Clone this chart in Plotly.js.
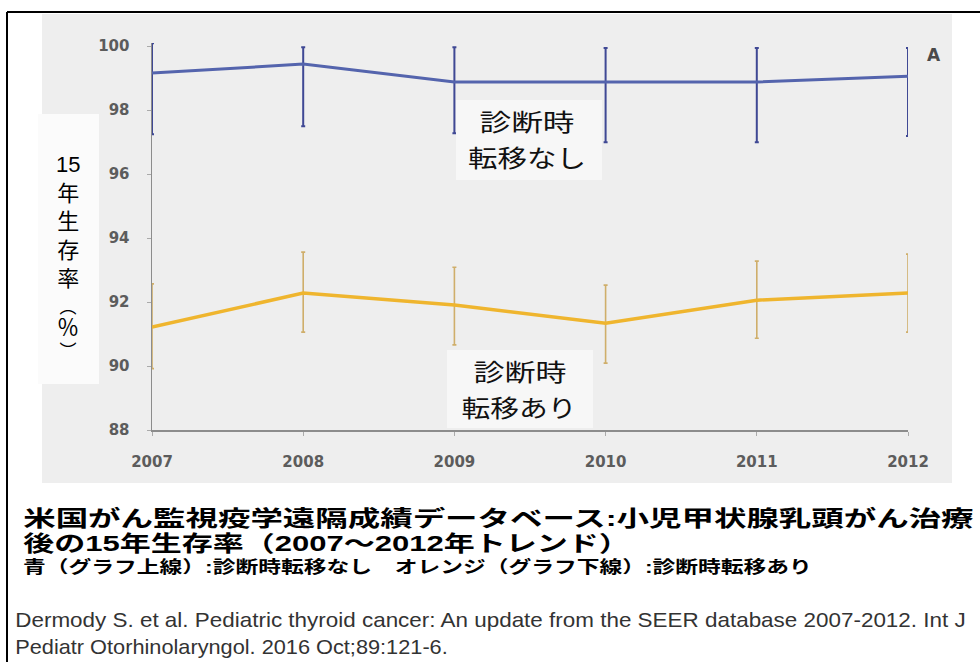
<!DOCTYPE html>
<html>
<head>
<meta charset="utf-8">
<script src="https://cdn.plot.ly/plotly-3.0.1.min.js"></script>
<style>
  html, body { margin: 0; padding: 0; background: #ffffff; }
  #chart { width: 980px; height: 662px; }
</style>
</head>
<body>
<div id="chart"></div>
<script>
// ---- data ----
const years = [2007, 2008, 2009, 2010, 2011, 2012];
const yearLabels = ['2007', '2008', '2009', '2010', '2011', '2012'];
const yTicks = [88, 90, 92, 94, 96, 98, 100];
const yTickLabels = ['88', '90', '92', '94', '96', '98', '100'];

// 診断時転移なし (blue, upper line)
const noMetValues = [99.16, 99.44, 98.88, 98.88, 98.88, 99.06];
const noMetErrPlus = [0.93, 0.53, 1.09, 1.06, 1.06, 0.88];
const noMetErrMinus = [1.91, 1.94, 1.60, 1.88, 1.88, 1.87];

// 診断時転移あり (orange, lower line)
const metValues = [91.22, 92.28, 91.91, 91.34, 92.06, 92.28];
const metErrPlus = [1.35, 1.28, 1.18, 1.19, 1.22, 1.22];
const metErrMinus = [1.30, 1.22, 1.25, 1.25, 1.19, 1.22];

// texts
const yLabelMain = ['15', '年', '生', '存', '率'];
const yLabelUnit = ['︵', '％', '︶'];
const noMetLabel = ['診断時', '転移なし'];
const metLabel = ['診断時', '転移あり'];
const titleLines = [
  '米国がん監視疫学遠隔成績データベース:小児甲状腺乳頭がん治療',
  '後の15年生存率（2007〜2012年トレンド）',
  '青（グラフ上線）:診断時転移なし　オレンジ（グラフ下線）:診断時転移あり'
];
const citeLines = [
  'Dermody S. et al. Pediatric thyroid cancer: An update from the SEER database 2007-2012. Int J',
  'Pediatr Otorhinolaryngol. 2016 Oct;89:121-6.'
];
const panelLetter = 'A';

// ---- layout helpers (pixel -> paper) ----
const L = 152, R = 908, T = 43, B = 430;
function px(x) { return (x - L) / (R - L); }
function py(y) { return (B - y) / (B - T); }

const JP = '"Liberation Sans", "Noto Sans CJK JP", sans-serif';
const CITE = '"Liberation Sans Narrow", "Liberation Sans", sans-serif';

const traces = [
  {
    x: years, y: noMetValues, type: 'scatter', mode: 'lines',
    line: { color: '#5464ad', width: 3 },
    error_y: { type: 'data', symmetric: false, array: noMetErrPlus, arrayminus: noMetErrMinus,
               color: '#3f4894', thickness: 2, width: 2 },
    cliponaxis: false, hoverinfo: 'none'
  },
  {
    x: years, y: metValues, type: 'scatter', mode: 'lines',
    line: { color: '#efb52e', width: 3.5 },
    error_y: { type: 'data', symmetric: false, array: metErrPlus, arrayminus: metErrMinus,
               color: '#cfae6a', thickness: 1.6, width: 2 },
    cliponaxis: false, hoverinfo: 'none'
  }
];

const annotations = [];
function addText(name, text, x, y, opts) {
  annotations.push(Object.assign({
    name: name, text: text, xref: 'paper', yref: 'paper', x: px(x), y: py(y),
    showarrow: false, xanchor: 'center', yanchor: 'middle', borderpad: 0
  }, opts));
}

// y label (vertical writing)
addText('ylabMain', yLabelMain.join('<br>'), 68, 221, { font: { family: JP, size: 22, color: '#000' } });
addText('ylabUnit', yLabelUnit.map((c, i) => i === 1 ? '<span style="font-size:22px">' + c + '</span>' : c).join('<br>'),
        68, 329, { font: { family: JP, size: 17, color: '#000' } });

// series labels
addText('box1a', noMetLabel[0], 527, 122, { font: { family: JP, size: 24, color: '#111' } });
addText('box1b', noMetLabel[1], 527, 158, { font: { family: JP, size: 24, color: '#111' } });
addText('box2a', metLabel[0], 520, 372, { font: { family: JP, size: 24, color: '#111' } });
addText('box2b', metLabel[1], 519, 408, { font: { family: JP, size: 24, color: '#111' } });

// panel letter
addText('letter', panelLetter, 934, 55, { font: { family: 'DejaVu Sans', size: 17, color: '#4a4a4a', weight: 'bold' } });

// titles
addText('title1', titleLines[0], 22, 518, { xanchor: 'left', font: { family: JP, size: 22, color: '#000', weight: 'bold' } });
addText('title2', titleLines[1], 22, 543, { xanchor: 'left', font: { family: JP, size: 22, color: '#000', weight: 'bold' } });
addText('title3', titleLines[2], 22, 567, { xanchor: 'left', font: { family: JP, size: 17, color: '#000', weight: 'bold' } });
addText('cite1', citeLines[0], 14, 620, { xanchor: 'left', font: { family: CITE, size: 20, color: '#333' } });
addText('cite2', citeLines[1], 14, 647, { xanchor: 'left', font: { family: CITE, size: 20, color: '#333' } });

// target widths (px) of stretched texts as measured on the reference
const targetWidths = {
  title1: 951, title2: 607, title3: 789, cite1: 951, cite2: 433,
  box1a: 95, box1b: 118, box2a: 93, box2b: 115
};

const shapes = [
  { type: 'rect', xref: 'paper', yref: 'paper', x0: px(42), x1: px(952), y0: py(483), y1: py(14),
    fillcolor: '#eeeeee', line: { width: 0 }, layer: 'below' },
  { type: 'rect', xref: 'paper', yref: 'paper', x0: px(38), x1: px(99), y0: py(384), y1: py(114),
    fillcolor: '#fbfbfb', line: { width: 0 }, layer: 'below' },
  { type: 'rect', xref: 'paper', yref: 'paper', x0: px(456), x1: px(602), y0: py(180), y1: py(100),
    fillcolor: '#f7f7f7', line: { width: 0 }, layer: 'above' },
  { type: 'rect', xref: 'paper', yref: 'paper', x0: px(447), x1: px(593), y0: py(428), y1: py(350),
    fillcolor: '#f7f7f7', line: { width: 0 }, layer: 'above' },
  { type: 'line', xref: 'paper', yref: 'paper', x0: px(7), x1: px(990), y0: py(12), y1: py(12),
    line: { color: '#000', width: 2 }, layer: 'above' },
  { type: 'line', xref: 'paper', yref: 'paper', x0: px(7), x1: px(7), y0: py(12), y1: py(680),
    line: { color: '#000', width: 2 }, layer: 'above' }
];

const tickFont = { family: 'DejaVu Sans', size: 15, color: '#5c5c5c', weight: 'bold' };

const layout = {
  width: 980, height: 662,
  margin: { l: L, r: 980 - R, t: T, b: 662 - B },
  paper_bgcolor: '#ffffff', plot_bgcolor: 'rgba(0,0,0,0)',
  showlegend: false,
  xaxis: {
    range: [2007, 2012], tickvals: years, ticktext: yearLabels,
    showline: true, linecolor: '#8c8c8c', linewidth: 1.5,
    ticks: 'outside', ticklen: 4, tickcolor: '#aaaaaa', tickwidth: 1,
    showgrid: false, zeroline: false, tickfont: tickFont, ticklabelstandoff: 13
  },
  yaxis: {
    range: [88, 100.1], tickvals: yTicks, ticktext: yTickLabels,
    showline: true, linecolor: '#8c8c8c', linewidth: 1.5,
    ticks: 'outside', ticklen: 4, tickcolor: '#aaaaaa', tickwidth: 1,
    showgrid: false, zeroline: false, tickfont: tickFont, ticklabelstandoff: 14
  },
  shapes: shapes,
  annotations: annotations
};

function stretchTexts(gd) {
  const groups = gd.querySelectorAll('.annotation');
  groups.forEach(g => {
    const idx = +g.getAttribute('data-index');
    const ann = gd.layout.annotations[idx];
    if (!ann || !(ann.name in targetWidths)) return;
    const t = g.querySelector('text.annotation-text');
    if (!t) return;
    const w = t.getBBox().width;
    if (!w) return;
    const k = targetWidths[ann.name] / w;
    t.style.transformBox = 'fill-box';
    t.style.transformOrigin = ann.xanchor === 'left' ? 'left center' : 'center center';
    t.style.transform = 'scaleX(' + k.toFixed(4) + ')';
  });
}

Plotly.newPlot('chart', traces, layout, { displayModeBar: false, staticPlot: true })
  .then(gd => stretchTexts(gd));
</script>
</body>
</html>
